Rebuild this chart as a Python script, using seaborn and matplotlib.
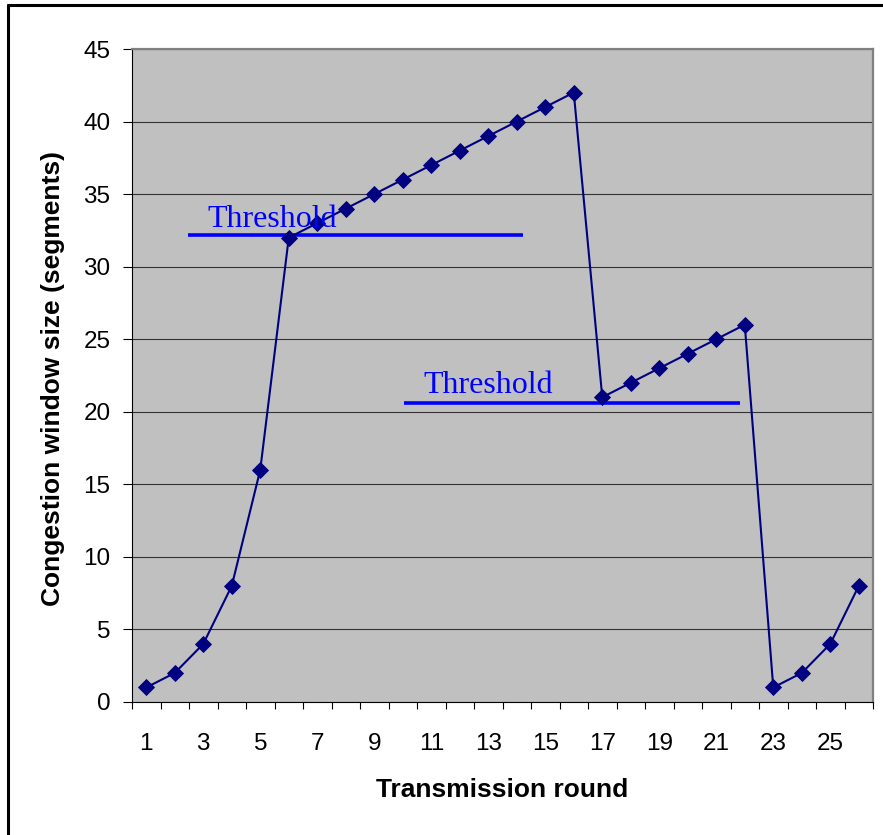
import numpy as np
import pandas as pd
import matplotlib
matplotlib.use("Agg")
import matplotlib.pyplot as plt
from matplotlib.lines import Line2D
import seaborn as sns

# TCP congestion window per transmission round
rounds = list(range(1, 27))
cwnd = [1, 2, 4, 8, 16, 32, 33, 34, 35, 36, 37, 38, 39, 40, 41, 42,
        21, 22, 23, 24, 25, 26, 1, 2, 4, 8]

# Threshold markers: level and horizontal span (in rounds)
threshold_levels = [32.2, 20.6]
threshold_starts = [2.47, 10.04]
threshold_ends = [14.22, 21.83]
threshold_text = ["Threshold", "Threshold"]
threshold_text_x = [3.13, 10.71]
threshold_text_y = [32.75, 21.3]

x_tick_labels = [str(r) for r in rounds if r % 2 == 1]
y_ticks = list(range(0, 46, 5))

df = pd.DataFrame({"round": rounds, "cwnd": cwnd})

sns.set_style("white")
plt.rcParams["font.family"] = ["Liberation Sans", "DejaVu Sans"]
plt.rcParams["text.color"] = "black"
plt.rcParams["axes.labelcolor"] = "black"
plt.rcParams["xtick.color"] = "black"
plt.rcParams["ytick.color"] = "black"
plt.rcParams["xtick.labelcolor"] = "black"
plt.rcParams["ytick.labelcolor"] = "black"

fig = plt.figure(figsize=(8.83, 8.35), dpi=100)
ax = fig.add_axes([0.1495, 0.1593, 0.8392, 0.7820])
ax.set_facecolor("#C0C0C0")

sns.lineplot(data=df, x="round", y="cwnd", ax=ax, color="#000080",
             linewidth=1.5, marker="D", markersize=7.8,
             markeredgecolor="#000080", markeredgewidth=0.6, zorder=4)

for lvl, x0, x1 in zip(threshold_levels, threshold_starts, threshold_ends):
    ax.plot([x0, x1], [lvl, lvl], color="#0000FF", linewidth=2.6, zorder=3,
            solid_capstyle="butt")
for txt, tx, ty in zip(threshold_text, threshold_text_x, threshold_text_y):
    ax.text(tx, ty, txt, color="#0000FF", fontsize=23,
            family=["Liberation Serif", "DejaVu Serif"],
            ha="left", va="baseline", zorder=5)

ax.set_xlim(0.5, 26.5)
ax.set_ylim(0, 45)

odd_rounds = [r for r in rounds if r % 2 == 1]
ax.set_xticks(odd_rounds)
ax.set_xticklabels(x_tick_labels)
ax.set_xticks(np.arange(0.5, 27.0, 1.0), minor=True)
ax.tick_params(axis="x", which="major", length=0, pad=22, labelsize=17.5,
               labelcolor="black")
ax.tick_params(axis="x", which="minor", length=5, width=0.8,
               direction="out", color="black", bottom=True)
ax.set_yticks(y_ticks)
ax.tick_params(axis="y", which="major", length=6.5, width=0.8,
               direction="out", color="black", pad=9, labelsize=17.5,
               labelcolor="black", left=True)

ax.yaxis.grid(True, color="#333333", linewidth=0.8)
ax.xaxis.grid(False)
ax.set_axisbelow(True)

for side in ("left", "bottom"):
    ax.spines[side].set_color("black")
    ax.spines[side].set_linewidth(0.8)
for side in ("top", "right"):
    ax.spines[side].set_color("#808080")
    ax.spines[side].set_linewidth(1.6)

ax.set_xlabel("Transmission round", fontsize=19, fontweight="bold",
              color="black")
ax.set_ylabel("Congestion window size (segments)", fontsize=19,
              fontweight="bold", color="black")
ax.xaxis.set_label_coords(0.5, -0.1348)
ax.xaxis.label.set_verticalalignment("center")
ax.yaxis.set_label_coords(-0.1066, 0.496)
ax.yaxis.label.set_verticalalignment("center")

# Chart frame (top and left edges)
W, H = 883, 835
fig.add_artist(Line2D([8 / W, 1.0], [1 - 5 / H, 1 - 5 / H],
                      transform=fig.transFigure, color="black", linewidth=2.2))
fig.add_artist(Line2D([8 / W, 8 / W], [0.0, 1 - 5 / H],
                      transform=fig.transFigure, color="black", linewidth=2.2))

fig.savefig("out.png", dpi=100)
